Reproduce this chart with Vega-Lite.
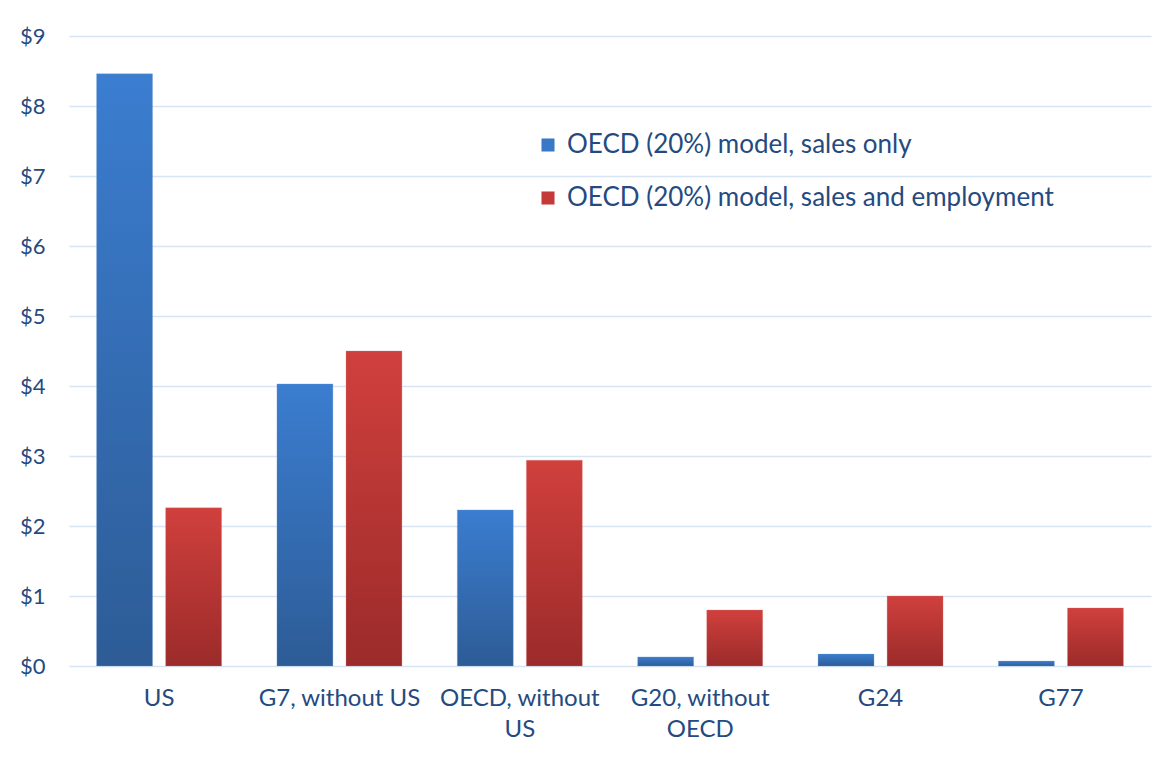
{
  "$schema": "https://vega.github.io/schema/vega-lite/v6.json",
  "width": 1082,
  "height": 630,
  "autosize": {"type": "none"},
  "padding": {"left": 69, "top": 36, "right": 2, "bottom": 99},
  "background": "white",
  "config": {
    "view": {"stroke": null},
    "font": "Lato",
    "axis": {"labelFont": "Lato", "labelColor": "#244a80", "labelFontSize": 22, "domain": false, "ticks": false, "gridColor": "#d7e4f3", "gridWidth": 1.5}
  },
  "data": {
    "values": [
      {"group": "US", "series": "OECD (20%) model, sales only", "value": 8.46},
      {"group": "US", "series": "OECD (20%) model, sales and employment", "value": 2.26},
      {"group": "G7, without US", "series": "OECD (20%) model, sales only", "value": 4.03},
      {"group": "G7, without US", "series": "OECD (20%) model, sales and employment", "value": 4.5},
      {"group": "OECD, without US", "series": "OECD (20%) model, sales only", "value": 2.23},
      {"group": "OECD, without US", "series": "OECD (20%) model, sales and employment", "value": 2.94},
      {"group": "G20, without OECD", "series": "OECD (20%) model, sales only", "value": 0.13},
      {"group": "G20, without OECD", "series": "OECD (20%) model, sales and employment", "value": 0.8},
      {"group": "G24", "series": "OECD (20%) model, sales only", "value": 0.17},
      {"group": "G24", "series": "OECD (20%) model, sales and employment", "value": 1.0},
      {"group": "G77", "series": "OECD (20%) model, sales only", "value": 0.07},
      {"group": "G77", "series": "OECD (20%) model, sales and employment", "value": 0.83}
    ]
  },
  "encoding": {
    "x": {
      "field": "group", "type": "nominal", "sort": null, "title": null,
      "scale": {"paddingInner": 0.307, "paddingOuter": 0.153},
      "axis": {"labelAngle": 0, "labelPadding": 20, "labelLineHeight": 31, "labelBaseline": "top", "labelFontSize": 24,
        "labelExpr": "datum.value == 'OECD, without US' ? ['OECD, without', 'US'] : datum.value == 'G20, without OECD' ? ['G20, without', 'OECD'] : datum.value"}
    },
    "y": {
      "field": "value", "type": "quantitative", "title": null,
      "scale": {"domain": [0, 9], "nice": false},
      "axis": {"values": [0,1,2,3,4,5,6,7,8,9], "format": "$d", "labelPadding": 24, "grid": true}
    }
  },
  "layer": [
    {
      "transform": [{"filter": "datum.series == 'OECD (20%) model, sales only'"}],
      "mark": {"type": "bar", "stroke": "#6d9ad6", "strokeWidth": 0.5, "strokeOpacity": 0.6,
        "color": {"gradient": "linear", "x1": 0, "y1": 0, "x2": 0, "y2": 1,
          "stops": [{"offset": 0, "color": "#3b7dd0"}, {"offset": 1, "color": "#2d5c96"}]}},
      "encoding": {
        "xOffset": {"field": "series", "type": "nominal", "sort": null,
          "scale": {"domain": ["OECD (20%) model, sales only", "OECD (20%) model, sales and employment"], "paddingInner": 0.19, "paddingOuter": 0}}
      }
    },
    {
      "transform": [{"filter": "datum.series == 'OECD (20%) model, sales and employment'"}],
      "mark": {"type": "bar", "stroke": "#d98080", "strokeWidth": 0.5, "strokeOpacity": 0.6,
        "color": {"gradient": "linear", "x1": 0, "y1": 0, "x2": 0, "y2": 1,
          "stops": [{"offset": 0, "color": "#d0403d"}, {"offset": 1, "color": "#9b2b2a"}]}},
      "encoding": {
        "xOffset": {"field": "series", "type": "nominal", "sort": null,
          "scale": {"domain": ["OECD (20%) model, sales only", "OECD (20%) model, sales and employment"], "paddingInner": 0.19, "paddingOuter": 0}}
      }
    },
    {
      "mark": {"type": "point", "shape": "square", "filled": true, "size": 0},
      "encoding": {
        "color": {
          "field": "series", "type": "nominal", "sort": null,
          "scale": {"domain": ["OECD (20%) model, sales only", "OECD (20%) model, sales and employment"], "range": ["#3878c6", "#c53a38"]},
          "legend": {"title": null, "orient": "none", "legendX": 466, "legendY": 96,
            "symbolType": "square", "symbolSize": 170, "symbolOpacity": 1, "symbolStrokeWidth": 0,
            "labelFont": "Lato", "labelFontSize": 26, "labelColor": "#244a80", "labelOffset": 6,
            "rowPadding": 27, "labelLimit": 700}
        }
      }
    }
  ]
}
